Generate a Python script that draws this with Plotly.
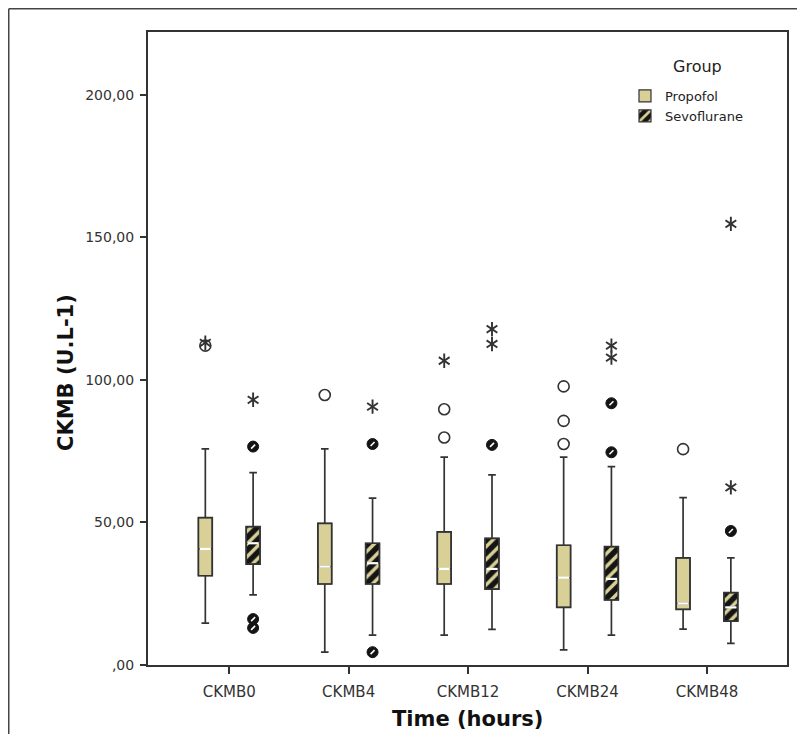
import plotly.graph_objects as go

# ---------------- data ----------------
categories = ["CKMB0", "CKMB4", "CKMB12", "CKMB24", "CKMB48"]
groups = ["Propofol", "Sevoflurane"]

prop_lower = [14.7, 4.5, 10.5, 5.3, 12.6]
prop_q1 = [31.3, 28.4, 28.4, 20.2, 19.5]
prop_median = [40.7, 34.5, 33.7, 30.6, 21.6]
prop_q3 = [51.7, 49.7, 46.7, 42.0, 37.6]
prop_upper = [75.8, 75.8, 72.9, 72.9, 58.7]
prop_circles = [[112.0], [94.7], [89.7, 79.8], [97.7, 85.6, 77.5], [75.7]]
prop_stars = [[113.0], [], [106.7], [], []]

sevo_lower = [24.6, 10.5, 12.5, 10.5, 7.6]
sevo_q1 = [35.4, 28.4, 26.6, 22.8, 15.4]
sevo_median = [42.7, 35.7, 33.7, 30.2, 20.2]
sevo_q3 = [48.5, 42.7, 44.4, 41.5, 25.4]
sevo_upper = [67.5, 58.5, 66.7, 69.6, 37.6]
sevo_circles = [[76.6, 16.1, 13.0], [77.5, 4.5], [77.2], [91.8, 74.6], [47.0]]
sevo_stars = [[93.0], [90.6], [117.8, 112.6], [112.0, 107.8], [154.7, 62.3]]

y_tickvals = [0, 50, 100, 150, 200]
y_ticktext = [",00", "50,00", "100,00", "150,00", "200,00"]

# ---------------- styling ----------------
TAN = "#d8d097"
DARK = "#141414"
LINE = "#333333"
FONT = "DejaVu Sans"
OFFSET = 0.2
BOXW = 0.116

fig = go.Figure()


def flat(lists, off):
    xs, ys = [], []
    for i, vals in enumerate(lists):
        for v in vals:
            xs.append(i + off)
            ys.append(v)
    return xs, ys


series = [
    ("Propofol", -OFFSET, prop_lower, prop_q1, prop_median, prop_q3, prop_upper,
     prop_circles, prop_stars, False),
    ("Sevoflurane", OFFSET, sevo_lower, sevo_q1, sevo_median, sevo_q3, sevo_upper,
     sevo_circles, sevo_stars, True),
]

for name, off, lo, q1, med, q3, up, circ, stars, striped in series:
    xpos = [i + off for i in range(len(categories))]
    if striped:
        marker = dict(color=DARK,
                      pattern=dict(shape="/", fgcolor=TAN, bgcolor=DARK,
                                   size=9, solidity=0.38, fillmode="replace"),
                      line=dict(color=LINE, width=1.2))
    else:
        marker = dict(color=TAN, line=dict(color=LINE, width=1.2))
    fig.add_trace(go.Bar(
        x=xpos, base=q1, y=[b - a for a, b in zip(q1, q3)], width=BOXW,
        marker=marker, name=name, showlegend=True, hoverinfo="skip"))
    fig.add_trace(go.Box(
        x=xpos, q1=q1, median=med, q3=q3, lowerfence=lo, upperfence=up,
        width=BOXW, whiskerwidth=0.55, fillcolor="rgba(0,0,0,0)",
        line=dict(color=LINE, width=1.7), showlegend=False, name=name,
        boxpoints=False, hoverinfo="skip"))
    fig.add_trace(go.Scatter(
        x=xpos, y=med, mode="markers", showlegend=False, hoverinfo="skip",
        marker=dict(symbol="line-ew", size=8, color="white",
                    line=dict(color="white", width=2.2))))
    cx, cy = flat(circ, off)
    if striped:
        fig.add_trace(go.Scatter(
            x=cx, y=cy, mode="markers", showlegend=False,
            marker=dict(symbol="circle", size=11, color=DARK,
                        line=dict(color=DARK, width=1))))
        fig.add_trace(go.Scatter(
            x=cx, y=cy, mode="markers", showlegend=False, hoverinfo="skip",
            marker=dict(symbol="line-ne", size=4, color="white",
                        line=dict(color="white", width=1.6))))
    else:
        fig.add_trace(go.Scatter(
            x=cx, y=cy, mode="markers", showlegend=False,
            marker=dict(symbol="circle", size=11, color="white",
                        line=dict(color=LINE, width=1.6))))
    sx, sy = flat(stars, off)
    for sym in ("y-up-open", "y-down-open"):
        fig.add_trace(go.Scatter(
            x=sx, y=sy, mode="markers", showlegend=False, hoverinfo="skip",
            marker=dict(symbol=sym, size=9, color=LINE,
                        line=dict(color=LINE, width=1.9))))

# page body has an 8px margin: work in reference-pixel coordinates and shift
OX, OY = 8, 8
PL, PT, PR, PB = 148, 32, 787, 665          # plot area in reference pixels
W, H = 805 - 2 * OX, 742 - 2 * OY
L, T = PL - OX, PT - OY
R, B = W - (PR - OX), H - (PB - OY)
pw, ph = PR - PL, PB - PT


def px_x(p):
    return (p - PL) / pw


def px_y(p):
    return (PB - p) / ph


fig.update_layout(
    width=W, height=H,
    margin=dict(l=L, r=R, t=T, b=B, autoexpand=False),
    paper_bgcolor="white", plot_bgcolor="white",
    barmode="overlay", boxmode="overlay",
    font=dict(family=FONT, color=LINE, size=14),
    legend=dict(
        x=px_x(625), y=px_y(81), xanchor="left", yanchor="top",
        bgcolor="rgba(0,0,0,0)",
        font=dict(family=FONT, size=13, color="#222"),
        itemwidth=30, tracegroupgap=0,
    ),
    xaxis=dict(
        range=[-0.68, 4.67], tickmode="array",
        tickvals=list(range(len(categories))), ticktext=categories,
        showgrid=False, zeroline=False,
        showline=True, linecolor=LINE, linewidth=2, mirror=True,
        ticks="outside", ticklen=7, tickwidth=1.5, tickcolor=LINE,
        ticklabelstandoff=5,
        tickfont=dict(family=FONT, size=15, color="#333"),
    ),
    yaxis=dict(
        range=[0, 222], tickmode="array",
        tickvals=y_tickvals, ticktext=y_ticktext,
        showgrid=False, zeroline=False,
        showline=True, linecolor=LINE, linewidth=2, mirror=True,
        ticks="outside", ticklen=6, tickwidth=1.5, tickcolor=LINE,
        ticklabelstandoff=3,
        tickfont=dict(family=FONT, size=14, color="#333"),
    ),
    annotations=[
        dict(text="Group", xref="paper", yref="paper",
             x=px_x(697), y=px_y(66), xanchor="center", yanchor="middle",
             showarrow=False, font=dict(family=FONT, size=16, color="#222")),
        dict(text="<b>Time (hours)</b>", xref="paper", yref="paper",
             x=0.5, y=px_y(719), xanchor="center", yanchor="middle",
             showarrow=False, font=dict(family=FONT, size=21, color="#111")),
        dict(text="<b>CKMB (U.L-1)</b>", xref="paper", yref="paper",
             x=px_x(66), y=px_y(373), xanchor="center", yanchor="middle",
             textangle=-90, showarrow=False,
             font=dict(family=FONT, size=21, color="#111")),
    ],
    shapes=[
        dict(type="line", xref="paper", yref="paper",
             x0=px_x(OX + 0.75), x1=px_x(805), y0=px_y(OY + 0.75), y1=px_y(OY + 0.75),
             line=dict(color="#444", width=1.5)),
        dict(type="line", xref="paper", yref="paper",
             x0=px_x(OX + 0.75), x1=px_x(OX + 0.75), y0=px_y(OY + 0.75), y1=px_y(OY + H),
             line=dict(color="#444", width=1.5)),
    ],
)

fig.write_html("out.html")
